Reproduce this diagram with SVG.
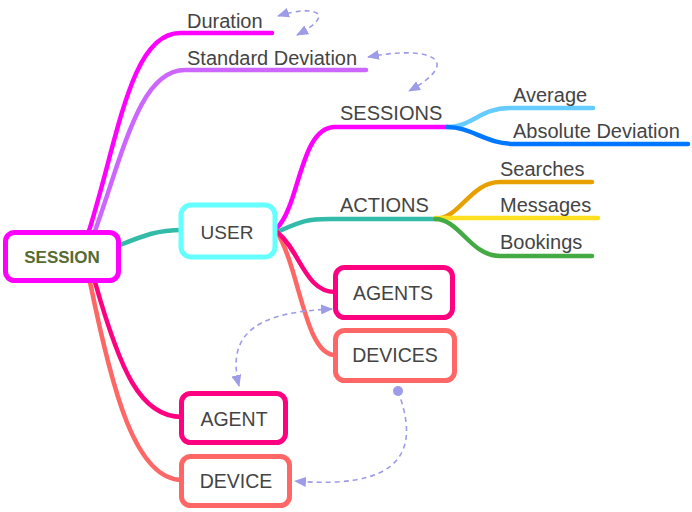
<svg xmlns="http://www.w3.org/2000/svg" width="692" height="512" viewBox="0 0 692 512">
<defs>
<style>
.lbl{font-family:"Liberation Sans",Arial,sans-serif;font-size:20px;fill:#444}
.box{fill:#fff;stroke-width:5}
.br{fill:none;stroke-width:4.5;stroke-linecap:round}
.dash{fill:none;stroke:#9c9ce8;stroke-width:1.6;stroke-dasharray:5 4}
</style>
<marker id="ah" viewBox="0 0 12 10" refX="11" refY="5" markerWidth="12" markerHeight="10" markerUnits="userSpaceOnUse" orient="auto-start-reverse">
<path d="M0,0 L12,5 L0,10 z" fill="#9c9ce8"/>
</marker>
</defs>
<rect width="692" height="512" fill="#fff"/>
<g id="connectors">
<path class="br" stroke="#ff00ff" d="M88 234 C118 140 130 33 180 33 L272 33"/>
<path class="br" stroke="#cc66ff" d="M94 234 C124 150 140 70 185 70 L366 70"/>
<path class="br" stroke="#33bbaa" d="M120 245 C145 235 158 230 182 230"/>
<path class="br" stroke="#ff6666" d="M90 282 C112 390 135 480 182 480"/>
<path class="br" stroke="#ff0080" d="M95 282 C120 370 140 417 182 417"/>
<path class="br" stroke="#ff00ff" d="M277 228 C300 205 300 127 335 127 L447 127"/>
<path class="br" stroke="#66ccff" d="M447 127 C472 127 480 108 510 108 L593 108"/>
<path class="br" stroke="#0077ff" d="M447 127 C472 127 485 144 515 144 L688 144"/>
<path class="br" stroke="#33bbaa" d="M277 232 C300 222 305 219 330 219 L435 219"/>
<path class="br" stroke="#e8a000" d="M435 219 C460 219 470 182 500 182 L592 182"/>
<path class="br" stroke="#ffe020" d="M435 218 L598 218"/>
<path class="br" stroke="#44aa44" d="M435 219 C460 219 470 256 500 256 L592 256"/>
<path class="br" stroke="#ff6666" d="M277 232 C300 270 305 355 335 355"/>
<path class="br" stroke="#ff0080" d="M277 232 C300 250 305 292 335 292"/>
<path class="dash" marker-start="url(#ah)" marker-end="url(#ah)" d="M278 16 C312 5 340 12 297 35"/>
<path class="dash" marker-start="url(#ah)" marker-end="url(#ah)" d="M368 57 C430 45 465 60 409 91"/>
<path class="dash" marker-start="url(#ah)" marker-end="url(#ah)" d="M332 309 C262 312 225 330 239 386"/>
<path class="dash" marker-end="url(#ah)" d="M398 391 C412 430 425 492 295 481"/>
<circle cx="398" cy="391" r="5" fill="#9c9ce8"/>
</g>
<g id="duration"><text class="lbl" x="187" y="28">Duration</text></g>
<g id="stddev"><text class="lbl" x="187" y="65">Standard Deviation</text></g>
<g id="sessions"><text class="lbl" x="340" y="120">SESSIONS</text></g>
<g id="average"><text class="lbl" x="513" y="102">Average</text></g>
<g id="absdev"><text class="lbl" x="513" y="138">Absolute Deviation</text></g>
<g id="actions"><text class="lbl" x="340" y="212">ACTIONS</text></g>
<g id="searches"><text class="lbl" x="500" y="176">Searches</text></g>
<g id="messages"><text class="lbl" x="500" y="212">Messages</text></g>
<g id="bookings"><text class="lbl" x="500" y="249">Bookings</text></g>
<g id="session">
<rect class="box" x="5.5" y="232.5" width="113" height="48" rx="9" stroke="#ff00ff" stroke-width="4.5"/>
<text x="62" y="263" text-anchor="middle" font-family="Liberation Sans,Arial,sans-serif" font-size="17" font-weight="bold" fill="#556b2f">SESSION</text>
</g>
<g id="user">
<rect class="box" x="181" y="205" width="94" height="52" rx="10" stroke="#66ffff"/>
<text class="lbl" x="227" y="239" text-anchor="middle" style="font-size:19px">USER</text>
</g>
<g id="agents">
<rect class="box" x="335.5" y="267.5" width="117" height="50" rx="9" stroke="#ff0080"/>
<text class="lbl" x="393" y="300" text-anchor="middle" style="font-size:19.5px">AGENTS</text>
</g>
<g id="devices">
<rect class="box" x="335.5" y="330.5" width="119" height="50" rx="9" stroke="#ff6666"/>
<text class="lbl" x="395" y="362" text-anchor="middle" style="font-size:19.5px">DEVICES</text>
</g>
<g id="agent">
<rect class="box" x="181.5" y="393.5" width="104" height="49" rx="9" stroke="#ff0080"/>
<text class="lbl" x="234" y="426" text-anchor="middle" style="font-size:19.5px">AGENT</text>
</g>
<g id="device">
<rect class="box" x="181.5" y="456.5" width="108" height="49" rx="9" stroke="#ff6666"/>
<text class="lbl" x="236" y="488" text-anchor="middle" style="font-size:19.5px">DEVICE</text>
</g>
</svg>
